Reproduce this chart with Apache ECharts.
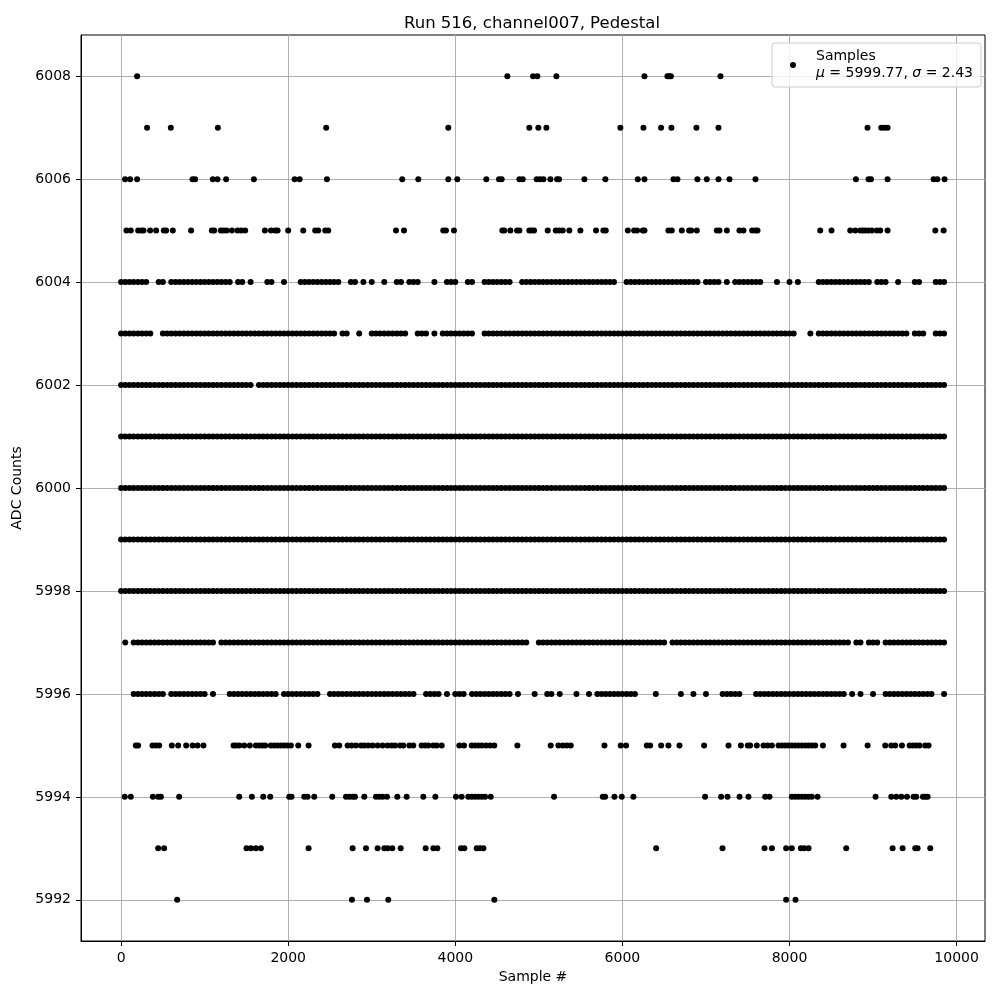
<!DOCTYPE html>
<html>
<head>
<meta charset="utf-8">
<script src="https://cdn.jsdelivr.net/npm/echarts@6/dist/echarts.min.js"></script>
<style>
html,body{margin:0;padding:0;background:#fff;}
#chart{width:1000px;height:1000px;}
</style>
</head>
<body>
<div id="chart"></div>
<script>
// ---- tick labels ----
const xTicks = [0, 2000, 4000, 6000, 8000, 10000];
const yTicks = [5992, 5994, 5996, 5998, 6000, 6002, 6004, 6006, 6008];

// ---- sparse ADC levels: sample numbers ----
const x6008 = [192, 4623, 4931, 4982, 5210, 6264, 6539, 6560, 6580, 7174];
const x6007 = [311, 595, 1158, 2455, 3916, 4886, 4994, 5090, 5976, 6252, 6463, 6587, 6886, 7150, 8934, 9098, 9134, 9174];
const x6006 = [48, 108, 192, 855, 886, 1098, 1154, 1257, 1589, 2077, 2137, 2463, 3365, 3557, 3916, 4024, 4371, 4523, 4555, 4767, 4807, 4974, 5014, 5054, 5138, 5218, 5242, 5545, 5796, 6184, 6264, 6611, 6659, 6898, 7010, 7150, 7282, 7593, 8795, 8946, 8975, 9174, 9725, 9769, 9856];
const x6005 = [64, 116, 204, 240, 268, 347, 419, 511, 539, 619, 838, 1086, 1114, 1194, 1226, 1262, 1326, 1394, 1437, 1485, 1721, 1793, 1844, 1873, 2000, 2180, 2323, 2359, 2443, 2479, 3290, 3386, 3856, 3888, 3984, 4563, 4587, 4659, 4739, 4767, 4886, 4915, 4943, 5106, 5202, 5242, 5286, 5365, 5497, 5685, 5772, 5801, 6065, 6140, 6176, 6244, 6264, 6551, 6591, 6711, 6799, 6823, 6891, 7130, 7162, 7250, 7401, 7449, 7553, 7589, 7617, 8368, 8503, 8727, 8787, 8847, 8879, 8907, 8946, 8987, 9046, 9086, 9174, 9745, 9845];
const x5995 = [176, 204, 376, 416, 456, 607, 683, 779, 855, 915, 986, 1346, 1374, 1414, 1474, 1541, 1613, 1653, 1693, 1725, 1793, 1833, 1873, 1913, 1953, 1992, 2032, 2120, 2244, 2559, 2611, 2711, 2759, 2811, 2871, 2911, 2958, 3010, 3070, 3130, 3190, 3238, 3278, 3338, 3378, 3450, 3497, 3597, 3637, 3677, 3737, 3777, 3837, 4048, 4104, 4196, 4236, 4276, 4316, 4368, 4416, 4467, 4743, 5142, 5234, 5286, 5334, 5382, 5785, 5980, 6044, 6292, 6332, 6464, 6551, 6683, 6978, 7270, 7418, 7501, 7529, 7609, 7689, 7737, 7789, 7869, 7909, 7948, 7988, 8028, 8068, 8108, 8148, 8188, 8228, 8268, 8308, 8400, 8647, 8935, 9146, 9218, 9266, 9346, 9438, 9477, 9517, 9557, 9625, 9665];
const x5994 = [44, 116, 380, 444, 476, 695, 1414, 1565, 1701, 1785, 2012, 2040, 2192, 2232, 2312, 2527, 2691, 2731, 2771, 2799, 2911, 3050, 3090, 3130, 3182, 3306, 3418, 3617, 3761, 4008, 4076, 4156, 4196, 4236, 4276, 4316, 4356, 4424, 5182, 5765, 5793, 5905, 5992, 6132, 6990, 7182, 7258, 7402, 7509, 7709, 7761, 8028, 8068, 8108, 8148, 8188, 8228, 8268, 8336, 9030, 9218, 9278, 9338, 9406, 9485, 9517, 9597, 9625, 9653];
const x5993 = [444, 515, 1501, 1553, 1613, 1673, 2244, 2771, 2931, 3070, 3150, 3190, 3246, 3346, 3645, 3737, 3785, 4068, 4108, 4256, 4296, 4336, 6404, 7198, 7701, 7789, 7960, 8028, 8136, 8176, 8228, 8679, 9234, 9354, 9505, 9533, 9685];
const x5992 = [671, 2763, 2943, 3198, 4467, 7960, 8072];

// ---- dense ADC levels: occupancy, one char per 50-sample bin ----
const BIN = 50;
const row6004 = "1111111001 1011111111 1111111011 0100011001 0001111111 1110011010 1001001101 1100010011 1001100111 1111001111 1111111111 1111111110 0111111111 1111111110 1111010111 1111000100 1010000111 1111111111 0111001000 11000111";
const row6003 = "1111111100 1111111111 1111111111 1111111111 1111111111 1101100100 1111111110 0111010111 1111100111 1111111111 1111111111 1111111111 1111111111 1111111111 1111111111 1111111111 1100010111 1111111111 1111111110 11100111";
const row6002 = "1111111111 1111111111 1111111111 1101111111 1111111111 1111111111 1111111111 1111111111 1111111111 1111111111 1111111111 1111111111 1111111111 1111111111 1111111111 1111111111 1111111111 1111111111 1111111111 11111111";
const row6001 = "1111111111 1111111111 1111111111 1111111111 1111111111 1111111111 1111111111 1111111111 1111111111 1111111111 1111111111 1111111111 1111111111 1111111111 1111111111 1111111111 1111111111 1111111111 1111111111 11111111";
const row6000 = "1111111111 1111111111 1111111111 1111111111 1111111111 1111111111 1111111111 1111111111 1111111111 1111111111 1111111111 1111111111 1111111111 1111111111 1111111111 1111111111 1111111111 1111111111 1111111111 11111111";
const row5999 = "1111111111 1111111111 1111111111 1111111111 1111111111 1111111111 1111111111 1111111111 1111111111 1111111111 1111111111 1111111111 1111111111 1111111111 1111111111 1111111111 1111111111 1111111111 1111111111 11111111";
const row5998 = "1111111111 1111111111 1111111111 1111111111 1111111111 1111111111 1111111111 1111111111 1111111111 1111111111 1111111111 1111111111 1111111111 1111111111 1111111111 1111111111 1111111111 1111111111 1111111111 11111111";
const row5997 = "0101111111 1111111111 1110111111 1111111111 1111111111 1111111111 1111111111 1111111111 1111111111 1111111100 1111111111 1111111111 1111111111 1011111111 1111111111 1111111111 1111111111 1111101101 1101111111 11111111";
const row5996 = "0001111111 1011111111 1010001111 1111111101 1111111100 1111111111 1111111111 1001111010 1110111111 1111010001 0011010001 0010111111 1111000010 0000100100 1000111110 0011111111 1111111111 1111010100 1001111111 11111001";

function decode(str) {
  const s = str.replace(/ /g, '');
  const xs = [];
  for (let i = 0; i < s.length; i++) if (s[i] === '1') xs.push(i * BIN);
  return xs;
}

const levels = [
  [6008, x6008], [6007, x6007], [6006, x6006], [6005, x6005],
  [6004, decode(row6004)], [6003, decode(row6003)], [6002, decode(row6002)],
  [6001, decode(row6001)], [6000, decode(row6000)], [5999, decode(row5999)],
  [5998, decode(row5998)], [5997, decode(row5997)], [5996, decode(row5996)],
  [5995, x5995], [5994, x5994], [5993, x5993], [5992, x5992]
];
const points = [];
levels.forEach(([y, xs]) => xs.forEach(x => points.push([x, y])));

const FONT = 'DejaVu Sans';
const plain = v => String(v);
const chart = echarts.init(document.getElementById('chart'), null, { renderer: 'canvas' });
chart.setOption({
  animation: false,
  backgroundColor: '#ffffff',
  textStyle: { fontFamily: FONT, color: '#000' },
  title: {
    text: 'Run 516, channel007, Pedestal',
    left: 527, top: 10, textAlign: 'center',
    textStyle: { fontFamily: FONT, fontSize: 16.5, fontWeight: 'normal', color: '#000' }
  },
  grid: {
    left: 81, right: 15, top: 35, bottom: 59,
    show: true, borderColor: '#000', borderWidth: 1, backgroundColor: 'transparent'
  },
  legend: {
    right: 19, top: 43,
    orient: 'vertical',
    icon: 'circle',
    itemWidth: 6, itemHeight: 6,
    padding: [5, 8, 5, 18],
    backgroundColor: 'rgba(255,255,255,0.8)',
    borderColor: '#cccccc', borderWidth: 1, borderRadius: 3,
    data: [{ name: 'Samples', itemStyle: { color: '#000', opacity: 1 } }],
    formatter: function () { return 'Samples\n{i|μ} = 5999.77, {i|σ} = 2.43'; },
    textStyle: {
      fontFamily: FONT, fontSize: 14, color: '#000', lineHeight: 17,
      padding: [0, 0, 0, 15],
      rich: { i: { fontStyle: 'italic', fontFamily: FONT, fontSize: 14, color: '#000', lineHeight: 17 } }
    }
  },
  xAxis: {
    type: 'value', min: -480, max: 10340,
    name: 'Sample #', nameLocation: 'middle', nameGap: 29,
    nameTextStyle: { fontFamily: FONT, fontSize: 14, color: '#000' },
    axisLine: { show: true, onZero: false, lineStyle: { color: '#000', width: 1 } },
    axisTick: { show: true, length: 5, lineStyle: { color: '#000' }, customValues: xTicks },
    axisLabel: { customValues: xTicks, formatter: plain, margin: 10, fontFamily: FONT, fontSize: 14, color: '#000' },
    splitLine: { show: true, lineStyle: { color: '#b0b0b0', width: 1 } }
  },
  yAxis: {
    type: 'value', min: 5991.2, max: 6008.8,
    name: 'ADC Counts', nameLocation: 'middle', nameGap: 37,
    nameTextStyle: { fontFamily: FONT, fontSize: 14, color: '#000' },
    axisLine: { show: true, onZero: false, lineStyle: { color: '#000', width: 1 } },
    axisTick: { show: true, length: 5, lineStyle: { color: '#000' }, customValues: yTicks },
    axisLabel: { customValues: yTicks, formatter: plain, margin: 10, fontFamily: FONT, fontSize: 14, color: '#000' },
    splitLine: { show: true, lineStyle: { color: '#b0b0b0', width: 1 } }
  },
  series: [{
    name: 'Samples',
    type: 'scatter',
    data: points,
    symbol: 'circle',
    symbolSize: 6,
    itemStyle: { color: '#000', opacity: 1 },
    large: false
  }]
});
</script>
</body>
</html>
